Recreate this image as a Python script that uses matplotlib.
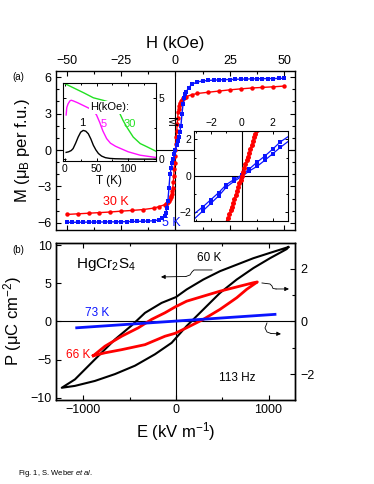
import matplotlib
matplotlib.use("Agg")
import matplotlib.pyplot as plt
from matplotlib.ticker import MultipleLocator

plt.rcParams['font.family'] = ['Liberation Sans', 'DejaVu Sans']
plt.rcParams['mathtext.fontset'] = 'custom'
plt.rcParams['mathtext.rm'] = 'Liberation Sans'
plt.rcParams['mathtext.it'] = 'Liberation Sans:italic'
plt.rcParams['mathtext.default'] = 'regular'

# ---------------- Panel (a): M(H) ----------------
h5 = [-50, -47.5, -45, -42.5, -40, -37.5, -35, -32.5, -30, -27.5, -25, -22.5, -20, -17.5, -15, -12.5, -10,
      -7.5, -6, -5, -4.5, -4, -3.5, -3, -2.5, -2, -1.5, -1, -0.5, 0, 0.5, 1, 1.5, 2, 2.5, 3, 3.5, 4, 4.5, 5,
      6, 7.5, 10, 12.5, 15, 17.5, 20, 22.5, 25, 27.5, 30, 32.5, 35, 37.5, 40, 42.5, 45, 47.5, 50]
m5 = [-5.95, -5.95, -5.94, -5.94, -5.93, -5.93, -5.92, -5.92, -5.91, -5.91, -5.90, -5.89, -5.88, -5.87, -5.86, -5.84, -5.82,
      -5.75, -5.62, -5.45, -5.2, -4.8, -4.2, -3.1, -2.0, -1.5, -1.1, -0.72, -0.36, 0.0, 0.38, 0.75, 1.1, 1.5, 2.0, 3.0, 3.8, 4.3, 4.6, 4.8,
      5.1, 5.4, 5.6, 5.68, 5.72, 5.75, 5.77, 5.79, 5.8, 5.82, 5.83, 5.84, 5.85, 5.86, 5.87, 5.88, 5.88, 5.89, 5.9]

h30 = [-50, -45, -40, -35, -30, -25, -20, -15, -10, -7.5, -5, -4.5, -4, -3.5, -3, -2.5, -2.25, -2, -1.75, -1.5, -1.25,
       -1, -0.8, -0.6, -0.4, -0.2, 0, 0.2, 0.4, 0.6, 0.8, 1, 1.25, 1.5, 1.75, 2, 2.25, 2.5, 3, 3.5, 4, 4.5, 5,
       7.5, 10, 15, 20, 25, 30, 35, 40, 45, 50]
m30 = [-5.3, -5.25, -5.2, -5.15, -5.1, -5.03, -4.97, -4.9, -4.78, -4.65, -4.5, -4.45, -4.4, -4.3, -4.2, -4.0, -3.9, -3.8, -3.6, -3.4, -3.1,
       -2.65, -2.12, -1.59, -1.06, -0.53, 0.0, 0.53, 1.06, 1.59, 2.12, 2.65, 3.1, 3.4, 3.6, 3.75, 3.88, 4.0, 4.15, 4.25, 4.3, 4.35, 4.4,
       4.55, 4.65, 4.75, 4.85, 4.95, 5.03, 5.1, 5.15, 5.2, 5.26]

# inset 1: M(T)
t_1 = [2, 6, 10, 13, 17, 21, 25, 29, 33, 37, 41, 45, 49, 53, 58, 64, 71, 80, 100, 120, 145]
m_1 = [0.55, 0.6, 0.7, 0.86, 1.3, 1.8, 2.2, 2.34, 2.28, 2.07, 1.65, 1.13, 0.75, 0.46, 0.25, 0.12, 0.06, 0.03, 0.01, 0.0, 0.0]
t_5 = [2, 3, 5, 8, 10, 13, 20, 30, 40, 45, 50, 55, 60, 66, 72, 80, 87, 100, 119, 145]
m_5 = [3.6, 4.2, 4.5, 4.75, 4.8, 4.75, 4.6, 4.35, 4.1, 3.95, 3.6, 3.0, 2.3, 1.67, 1.3, 1.05, 0.89, 0.6, 0.32, 0.13]
t_30 = [0, 10, 20, 30, 45, 60, 70, 77, 82, 87, 92, 98, 108, 119, 130, 146]
m_30 = [6.15, 5.9, 5.65, 5.4, 5.0, 4.8, 4.65, 4.5, 4.15, 3.7, 3.15, 2.6, 1.8, 1.27, 1.0, 0.59]

# inset 2: low-field M(H)
hi_blue = [-3.2, -2.5, -2.0, -1.5, -1.0, -0.5, 0.0, 0.5, 1.0, 1.5, 2.0, 2.5, 3.2]
mi_blue_up = [-2.15, -1.68, -1.3, -0.92, -0.48, -0.2, 0.04, 0.38, 0.75, 1.08, 1.45, 1.85, 2.25]
mi_blue_dn = [-2.45, -1.9, -1.5, -1.1, -0.62, -0.3, -0.04, 0.27, 0.52, 0.85, 1.2, 1.55, 2.0]
hi_red = [-1.04, -0.96, -0.88, -0.8, -0.72, -0.64, -0.56, -0.48, -0.4, -0.32, -0.24, -0.16, -0.08, 0.0,
          0.08, 0.16, 0.24, 0.32, 0.4, 0.48, 0.56, 0.64, 0.72, 0.8, 0.88, 0.96, 1.04]
mi_red = [-2.72, -2.52, -2.31, -2.1, -1.89, -1.68, -1.47, -1.26, -1.05, -0.84, -0.63, -0.42, -0.21, 0.0,
          0.21, 0.42, 0.63, 0.84, 1.05, 1.26, 1.47, 1.68, 1.89, 2.1, 2.31, 2.52, 2.72]

# ---------------- Panel (b): P(E) ----------------
e60 = [1214, 1016, 836, 656, 476, 295, 115, 0, -155, -335, -479, -659, -876, -1092, -1235,
       -1092, -876, -659, -443, -227, -47, 115, 295, 476, 656, 836, 1016, 1197, 1214]
p60 = [9.76, 9.0, 8.3, 7.45, 6.6, 5.5, 4.2, 3.2, 2.44, 1.13, -0.52, -2.35, -4.97, -7.6, -8.7,
       -8.45, -7.8, -6.9, -5.8, -4.3, -2.8, -0.6, 1.57, 3.75, 5.5, 7.0, 8.3, 9.5, 9.76]

e66 = [-894, -768, -587, -407, -263, -119, -10, 115, 295, 476, 656, 836, 879,
       764, 656, 476, 295, 115, -10, -119, -335, -587, -768, -894]
p66 = [-1.30, -0.94, -0.56, -0.24, 0.08, 0.33, 0.55, 0.77, 0.96, 1.15, 1.31, 1.47, 1.50,
       1.22, 0.90, 0.46, 0.08, -0.24, -0.45, -0.56, -0.88, -1.07, -1.19, -1.30]

e73 = [-1073, 1070]
p73 = [-0.24, 0.27]

RED = '#ff0000'
BLUE = '#0a14ff'
GREEN = '#22e022'
MAG = '#ff10ff'

fig = plt.figure(figsize=(3.74, 4.84), dpi=100)

# ---- panel a
axa = fig.add_axes([0.1497, 0.5248, 0.639, 0.3285])
axa.axhline(0, color='black', lw=0.8, zorder=1)
axa.axvline(0, color='black', lw=0.8, zorder=1)
axa.plot(h30, m30, '-o', color=RED, ms=3.2, lw=1.0, mew=0, zorder=3)
axa.plot(h5, m5, '-s', color=BLUE, ms=2.7, lw=1.0, mew=0, zorder=4)
axa.set_xlim(-55, 55)
axa.set_ylim(-6.58, 6.5)
axa.xaxis.tick_top()
axa.xaxis.set_label_position('top')
axa.set_xticks([-50, -25, 0, 25, 50])
axa.xaxis.set_minor_locator(MultipleLocator(12.5))
axa.set_yticks([-6, -3, 0, 3, 6])
axa.yaxis.set_minor_locator(MultipleLocator(1))
axa.tick_params(which='both', direction='in', top=True, bottom=True, left=True, right=True,
                labeltop=True, labelbottom=False, labelright=False, labelsize=9, width=0.8)
axa.tick_params(which='major', length=3.5, pad=3)
axa.tick_params(which='minor', length=2)
axa.set_xlabel('H (kOe)', fontsize=12, labelpad=5)
axa.set_ylabel(r'M ($\mu_{\rm B}$ per f.u.)', fontsize=12, labelpad=4)
for s in axa.spines.values():
    s.set_linewidth(1.0)
axa.text(0.251, 0.176, '30 K', color=RED, fontsize=9, ha='center', va='center', transform=axa.transAxes)
axa.text(0.481, 0.044, '5 K', color=BLUE, fontsize=9, ha='center', va='center', transform=axa.transAxes)

# ---- inset 1
ax1 = fig.add_axes([0.1684, 0.6674, 0.2487, 0.161])
ax1.plot(t_30, m_30, color=GREEN, lw=1.0)
ax1.plot(t_5, m_5, color=MAG, lw=1.0)
ax1.plot(t_1, m_1, color='black', lw=1.0)
ax1.set_xlim(-3, 144)
ax1.set_ylim(-0.15, 6.2)
ax1.set_xticks([0, 50, 100])
ax1.xaxis.set_minor_locator(MultipleLocator(25))
ax1.set_yticks([0, 5])
ax1.yaxis.set_minor_locator(MultipleLocator(2.5))
ax1.yaxis.tick_right()
ax1.yaxis.set_label_position('right')
ax1.tick_params(which='both', direction='in', top=True, bottom=True, left=True, right=True,
                labelsize=7.5, width=0.7, pad=2)
ax1.tick_params(which='major', length=2.5)
ax1.tick_params(which='minor', length=1.5)
ax1.set_xlabel('T (K)', fontsize=8.5, labelpad=1)
ax1.set_ylabel('M', fontsize=8.5, rotation=270, labelpad=8)
ax1.text(0.505, 0.69, 'H(kOe):', fontsize=8, ha='center', va='center', transform=ax1.transAxes,
         bbox=dict(facecolor='white', edgecolor='none', pad=1.0))
ax1.text(0.204, 0.487, '1', fontsize=8, color='black', ha='center', va='center', transform=ax1.transAxes)
ax1.text(0.44, 0.47, '5', fontsize=8, color=MAG, ha='center', va='center', transform=ax1.transAxes)
ax1.text(0.72, 0.47, '30', fontsize=8, color=GREEN, ha='center', va='center', transform=ax1.transAxes)

# ---- inset 2
ax2 = fig.add_axes([0.5187, 0.5434, 0.2513, 0.186])
ax2.axhline(0, color='black', lw=0.8)
ax2.axvline(0, color='black', lw=0.8)
ax2.plot(hi_blue, mi_blue_up, '-s', color=BLUE, ms=3.3, lw=0.9, mew=0)
ax2.plot(hi_blue, mi_blue_dn, '-s', color=BLUE, ms=3.3, lw=0.9, mew=0)
ax2.plot(hi_red, mi_red, '-o', color=RED, ms=3.6, lw=0.9, mew=0)
ax2.set_xlim(-3.1, 3.0)
ax2.set_ylim(-2.47, 2.45)
ax2.set_xticks([-2, 0, 2])
ax2.set_yticks([-2, 0, 2])
ax2.xaxis.set_minor_locator(MultipleLocator(1))
ax2.yaxis.set_minor_locator(MultipleLocator(1))
ax2.xaxis.tick_top()
ax2.tick_params(which='both', direction='in', top=True, bottom=True, left=True, right=True,
                labeltop=True, labelbottom=False, labelleft=True, labelright=False,
                labelsize=7.5, width=0.7, pad=2)
ax2.tick_params(which='major', length=2.5)
ax2.tick_params(which='minor', length=1.5)

# ---- panel b
axb = fig.add_axes([0.1497, 0.1736, 0.639, 0.3244])
axb.axhline(0, color='black', lw=0.8)
axb.axvline(0, color='black', lw=0.8)
axb.plot(e60, p60, color='black', lw=1.5)
axb.set_xlim(-1297, 1286)
axb.set_ylim(-10.3, 10.3)
axb.set_xticks([-1000, 0, 1000])
axb.xaxis.set_minor_locator(MultipleLocator(500))
axb.set_yticks([-10, -5, 0, 5, 10])
axb.tick_params(which='both', direction='in', top=True, bottom=True, left=True, right=False,
                labelsize=9, width=0.8, pad=3)
axb.tick_params(which='major', length=3.5)
axb.tick_params(which='minor', length=2.5)
axb.set_xlabel(r'E (kV m$^{-1}$)', fontsize=12, labelpad=3)
axb.set_ylabel(r'P ($\mu$C cm$^{-2}$)', fontsize=12, labelpad=5)

axr = axb.twinx()
axr.plot(e66, p66, color=RED, lw=2.0)
axr.plot(e73, p73, color=BLUE, lw=2.0)
axr.set_ylim(-2.98, 2.98)
axr.set_yticks([-2, 0, 2])
axr.yaxis.set_minor_locator(MultipleLocator(1))
axr.tick_params(which='both', direction='in', right=True, labelsize=9, width=0.8, pad=4)
axr.tick_params(which='major', length=3.5)
axr.tick_params(which='minor', length=2.5)
for s in list(axb.spines.values()) + list(axr.spines.values()):
    s.set_linewidth(1.0)

axb.text(0.21, 0.86, r'HgCr$_2$S$_4$', fontsize=11, ha='center', va='center', transform=axb.transAxes)
axb.text(0.64, 0.905, '60 K', fontsize=8.5, ha='center', va='center', transform=axb.transAxes)
axb.text(0.172, 0.554, '73 K', fontsize=8.5, color=BLUE, ha='center', va='center', transform=axb.transAxes)
axb.text(0.092, 0.287, '66 K', fontsize=8.5, color=RED, ha='center', va='center', transform=axb.transAxes)
axb.text(0.757, 0.14, '113 Hz', fontsize=8.5, ha='center', va='center', transform=axb.transAxes)


def px2ax(pts):
    return [((x - 56) / 239.0, (400 - y) / 157.0) for x, y in pts]


def squiggle(ax, pts):
    p = px2ax(pts)
    xs = [a for a, b in p[:-1]]
    ys = [b for a, b in p[:-1]]
    ax.plot(xs, ys, color='black', lw=0.6, transform=ax.transAxes, clip_on=False)
    ax.annotate('', xy=p[-1], xytext=p[-2], xycoords='axes fraction', textcoords='axes fraction',
                arrowprops=dict(arrowstyle='-|>', lw=0.6, color='black', mutation_scale=6,
                                shrinkA=0, shrinkB=0))


squiggle(axr, [(212, 270), (194, 270), (192, 272), (190, 275), (186, 276.5), (161, 277)])
squiggle(axr, [(262, 283), (270, 284), (272, 286), (273, 288.5), (276, 289), (289, 289)])
squiggle(axr, [(267, 323), (265, 328), (267, 332), (271, 333.5), (281, 334)])

fig.text(0.032, 0.841, '(a)', fontsize=7, ha='left', va='center')
fig.text(0.032, 0.483, '(b)', fontsize=7, ha='left', va='center')
fig.text(0.048, 0.021, r'Fig. 1, S. Weber $\it{et\ al.}$', fontsize=5.5, ha='left', va='center')

fig.savefig('out.png', dpi=100)
